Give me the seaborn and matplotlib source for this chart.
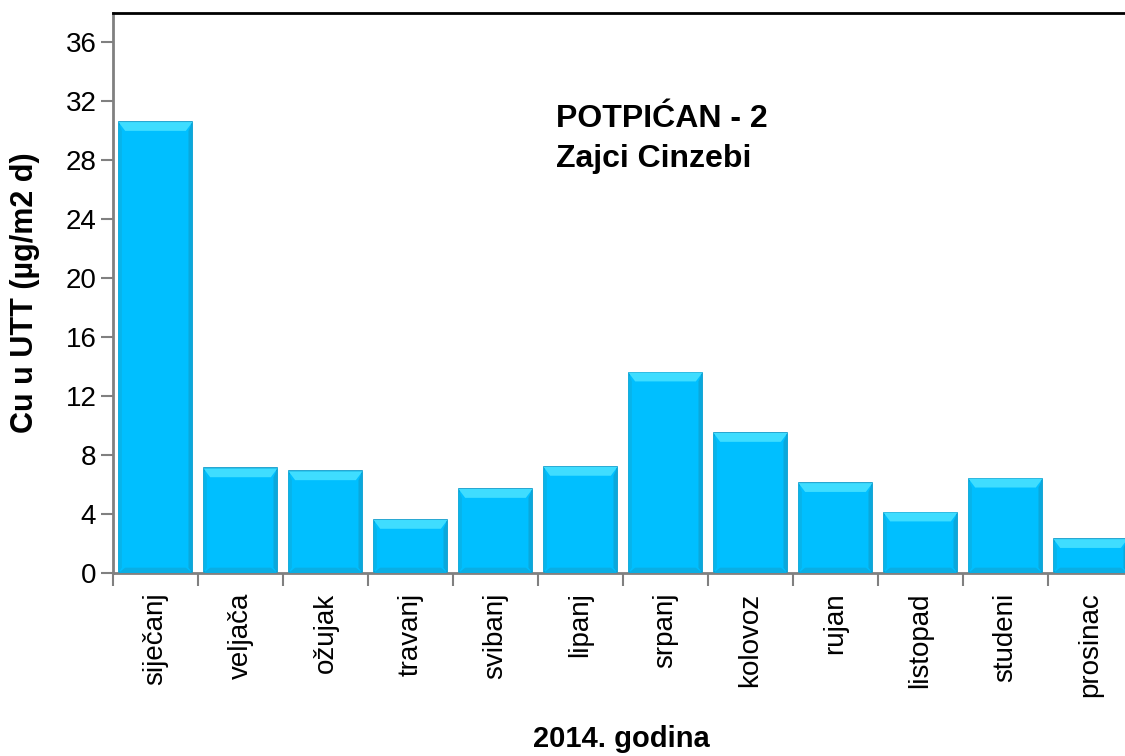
import numpy as np
import pandas as pd
import seaborn as sns
import matplotlib
matplotlib.use("Agg")
import matplotlib.pyplot as plt
from matplotlib.patches import Polygon

# data
months = ['siječanj', 'veljača', 'ožujak', 'travanj', 'svibanj', 'lipanj',
          'srpanj', 'kolovoz', 'rujan', 'listopad', 'studeni', 'prosinac']
cu_values = [30.6, 7.1, 6.9, 3.6, 5.7, 7.2, 13.6, 9.5, 6.1, 4.1, 6.4, 2.3]
y_ticks = [0, 4, 8, 12, 16, 20, 24, 28, 32, 36]

df = pd.DataFrame({'mjesec': months, 'cu': cu_values})

sns.set_theme(style="white")
plt.rcParams['font.family'] = ['Liberation Sans', 'DejaVu Sans']
plt.rcParams['text.color'] = 'black'
plt.rcParams['axes.labelcolor'] = 'black'
plt.rcParams['xtick.labelcolor'] = 'black'
plt.rcParams['ytick.labelcolor'] = 'black'

fig = plt.figure(figsize=(11.25, 7.56), dpi=100)
# plot area runs a bit past the right edge like in the original
ax = fig.add_axes([113 / 1125, 1 - 573 / 756, 1020 / 1125, 560 / 756])

sns.barplot(data=df, x='mjesec', y='cu', color='#00BFFF', saturation=1,
            width=0.87, edgecolor='#0096C8', linewidth=1.2, ax=ax)

# bevel look: light top, darker sides, slightly dark bottom
for p in ax.patches:
    x0, y0 = p.get_x(), p.get_y()
    w, h = p.get_width(), p.get_height()
    bx = w * 0.09
    by = min(0.6, h * 0.3)
    ax.add_patch(Polygon([(x0, y0 + h), (x0 + w, y0 + h), (x0 + w - bx, y0 + h - by),
                          (x0 + bx, y0 + h - by)], closed=True, color='#3FDDFF', lw=0, zorder=3))
    ax.add_patch(Polygon([(x0 + w, y0 + h), (x0 + w, y0), (x0 + w - bx * 0.6, y0 + by * 0.6),
                          (x0 + w - bx * 0.6, y0 + h - by)], closed=True, color='#0AA8DC', lw=0, zorder=3))
    ax.add_patch(Polygon([(x0, y0 + h), (x0, y0), (x0 + bx * 0.5, y0 + by * 0.6),
                          (x0 + bx * 0.5, y0 + h - by)], closed=True, color='#08B4EA', lw=0, zorder=3))
    ax.add_patch(Polygon([(x0, y0), (x0 + w, y0), (x0 + w - bx, y0 + by * 0.6),
                          (x0 + bx, y0 + by * 0.6)], closed=True, color='#0AAEE4', lw=0, zorder=3))

ax.set_xlim(-0.5, len(months) - 0.5)
ax.set_ylim(0, 38)
ax.set_yticks(y_ticks)
ax.set_xticks(range(len(months)))
ax.set_xticks(np.arange(-0.5, len(months), 1), minor=True)
ax.set_xticklabels(months, rotation=90, fontsize=20)
ax.tick_params(axis='x', which='major', length=0, pad=14)
ax.tick_params(axis='x', which='minor', length=9, width=1.5, color='#808080', direction='out')
ax.tick_params(axis='y', length=9, width=1.5, color='#808080', direction='out', labelsize=20, pad=3)
ax.yaxis.set_ticks_position('left')
ax.xaxis.set_ticks_position('bottom')
ax.xaxis.set_tick_params(which='minor', bottom=True)

for s in ['left', 'bottom']:
    ax.spines[s].set_color('#808080')
    ax.spines[s].set_linewidth(2)
ax.spines['top'].set_color('black')
ax.spines['top'].set_linewidth(2)
ax.spines['right'].set_visible(False)

ax.set_ylabel('Cu u UTT (µg/m2 d)', fontsize=22, weight='bold', labelpad=18)
ax.set_xlabel('')
fig.text(621 / 1125, 1 - 739 / 756, '2014. godina', fontsize=21, weight='bold',
         ha='center', va='center')

ax.text(0.434, 0.775, 'POTPIĆAN - 2\nZajci Cinzebi', transform=ax.transAxes,
        fontsize=23, weight='bold', va='center', ha='left', linespacing=1.4)

fig.savefig('out.png', dpi=100)
